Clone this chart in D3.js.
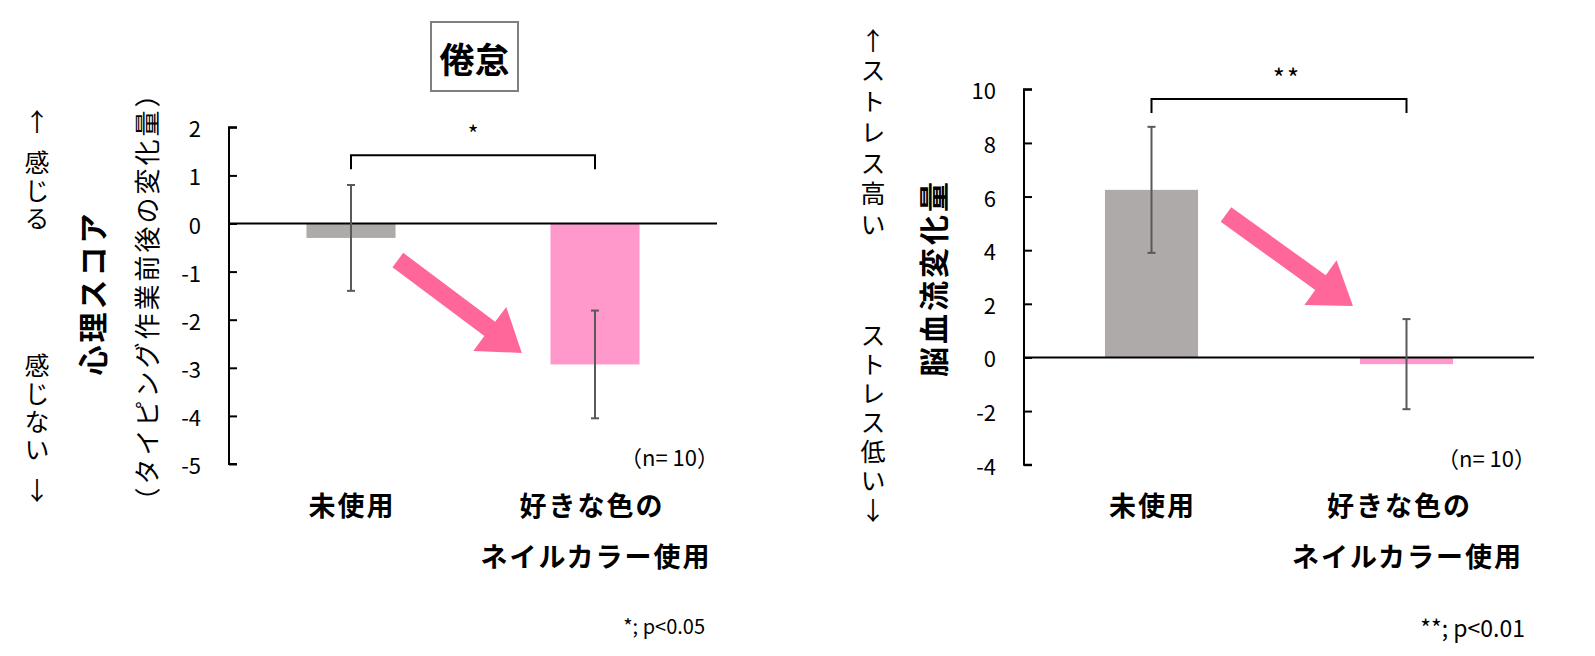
<!DOCTYPE html>
<html lang="ja">
<head>
<meta charset="UTF-8">
<title>倦怠 / 脳血流変化量</title>
<style>
    body { margin: 0; padding: 0; background: #fff; overflow: hidden; }
    svg { display: block; font-family: "Noto Sans CJK JP", "Noto Sans", sans-serif; }
</style>
</head>
<body>
<svg id="chart" width="1595" height="656"></svg>
<script src="https://d3js.org/d3.v7.min.js"></script>
<script>
// categories (two lines for the long label)
const categories = ["未使用", "好きな色のネイルカラー使用"];
const categoryLines = [["未使用"], ["好きな色の", "ネイルカラー使用"]];
const barColors = ["#AEAAAA", "#FF99CC"];

// left: 倦怠 psychological score change
const boredomMeans = [-0.3, -2.93];
const boredomErrors = [1.1, 1.12];
const boredomTicks = [2, 1, 0, -1, -2, -3, -4, -5];

// right: cerebral blood flow change
const bloodMeans = [6.25, -0.25];
const bloodErrors = [2.35, 1.68];
const bloodTicks = [10, 8, 6, 4, 2, 0, -2, -4];

const svg = d3.select("#chart");

// upright vertical text (tategaki); gap = extra space before the 2nd part
function verticalText(g, parts, x, yCenterFirst, size, spacing, gap) {
    const t = g.append("text")
        .attr("x", x)
        .attr("y", yCenterFirst - size / 2)
        .style("writing-mode", "vertical-rl")
        .style("text-orientation", "upright")
        .style("font-size", size + "px")
        .style("letter-spacing", spacing + "px");
    t.append("tspan").text(parts[0]);
    if (parts[1]) t.append("tspan").attr("dy", gap).text(parts[1]);
}

function drawPanel(p) {
    const g = svg.append("g");

    const x = d3.scaleBand().domain(categories).range([p.left, p.right]);
    const y = d3.scaleLinear().domain(p.domain).range([p.bottom, p.top]);
    const barW = x.bandwidth() * 0.365;
    const cx = c => x(c) + x.bandwidth() / 2;

    // bars
    g.selectAll(".bar")
        .data(categories)
      .enter().append("rect")
        .attr("x", d => cx(d) - barW / 2)
        .attr("y", (d, i) => y(Math.max(0, p.means[i])))
        .attr("width", barW)
        .attr("height", (d, i) => Math.abs(y(p.means[i]) - y(0)))
        .attr("fill", (d, i) => barColors[i]);

    // zero line
    g.append("line")
        .attr("x1", p.left).attr("x2", p.right)
        .attr("y1", y(0)).attr("y2", y(0))
        .attr("stroke", "#000").attr("stroke-width", 2);

    // y axis, ticks pointing inward
    const axis = g.append("g")
        .attr("transform", `translate(${p.left},0)`)
        .call(d3.axisRight(y).tickValues(p.ticks).tickSize(8).tickFormat(""));
    axis.select(".domain").attr("d", `M8,${y(p.domain[0])}H0V${y(p.domain[1])}H8`)
        .attr("stroke", "#000").attr("stroke-width", 2);
    axis.selectAll(".tick line").attr("stroke", "#000").attr("stroke-width", 2);

    g.selectAll(".tlabel")
        .data(p.ticks)
      .enter().append("text")
        .attr("x", p.left - 28)
        .attr("y", d => y(d))
        .attr("text-anchor", "end")
        .attr("dominant-baseline", "central")
        .style("font-size", "22px")
        .text(d => d);

    // error bars
    const eb = g.selectAll(".err")
        .data(categories)
      .enter().append("g")
        .attr("stroke", "#595959").attr("stroke-width", 2);
    eb.append("line")
        .attr("x1", d => cx(d)).attr("x2", d => cx(d))
        .attr("y1", (d, i) => y(p.means[i] + p.errors[i]))
        .attr("y2", (d, i) => y(p.means[i] - p.errors[i]));
    [1, -1].forEach(s => {
        eb.append("line")
            .attr("x1", d => cx(d) - 4).attr("x2", d => cx(d) + 4)
            .attr("y1", (d, i) => y(p.means[i] + s * p.errors[i]))
            .attr("y2", (d, i) => y(p.means[i] + s * p.errors[i]));
    });

    // significance bracket
    const by = y(p.bracketAt);
    g.append("path")
        .attr("d", `M${cx(categories[0])},${by + 14}V${by}H${cx(categories[1])}V${by + 14}`)
        .attr("fill", "none").attr("stroke", "#000").attr("stroke-width", 2);
    g.append("text")
        .attr("x", (cx(categories[0]) + cx(categories[1])) / 2 + p.starShift)
        .attr("y", by - 22)
        .attr("text-anchor", "middle")
        .attr("dominant-baseline", "central")
        .style("font-size", p.starSize + "px")
        .style("letter-spacing", "2px")
        .text(p.stars);

    // pink arrow
    const xf = f => p.left + f * (p.right - p.left);
    const sx = xf(p.arrow.from[0]), sy = y(p.arrow.from[1]);
    const tx = xf(p.arrow.to[0]), ty = y(p.arrow.to[1]);
    const len = Math.hypot(tx - sx, ty - sy);
    const ux = (tx - sx) / len, uy = (ty - sy) / len;
    const nx = -uy, ny = ux;
    const hw = 9, hh = 27.5, hl = 40;
    const bx = tx - ux * hl, byy = ty - uy * hl;
    const pts = [
        [sx + nx * hw, sy + ny * hw],
        [bx + nx * hw, byy + ny * hw],
        [bx + nx * hh, byy + ny * hh],
        [tx, ty],
        [bx - nx * hh, byy - ny * hh],
        [bx - nx * hw, byy - ny * hw],
        [sx - nx * hw, sy - ny * hw]
    ];
    g.append("polygon")
        .attr("points", pts.map(q => q.join(",")).join(" "))
        .attr("fill", "#FF6699");

    // category labels
    categoryLines.forEach((lines, i) => {
        lines.forEach((t, j) => {
            g.append("text")
                .attr("x", cx(categories[i]) + (i === 1 && j === 0 ? p.line1Shift : 0) + 1)
                .attr("y", p.labelY + j * p.lineGap)
                .attr("text-anchor", "middle")
                .attr("dominant-baseline", "central")
                .style("font-size", "27px")
                .style("font-weight", "bold")
                .style("letter-spacing", "2px")
                .text(t);
        });
    });

    // n and footnote (full-width closing paren leaves half an em blank)
    g.append("text")
        .attr("x", p.right + 2).attr("y", y(p.domain[0]) - 8)
        .attr("text-anchor", "end").attr("dominant-baseline", "central")
        .style("font-size", "22px")
        .text("（n= 10）");
    g.append("text")
        .attr("x", p.noteX).attr("y", p.noteY)
        .attr("text-anchor", "end").attr("dominant-baseline", "central")
        .style("font-size", p.noteSize + "px")
        .text(p.note);

    // axis titles
    p.titles.forEach(t => {
        g.append("text")
            .attr("transform", `translate(${t.x},${t.y}) rotate(-90)`)
            .attr("text-anchor", "middle")
            .attr("dominant-baseline", "central")
            .style("font-size", t.size + "px")
            .style("font-weight", t.bold ? "bold" : "normal")
            .style("letter-spacing", t.spacing + "px")
            .text(t.text);
    });

    // direction hints
    p.hints.forEach(h => verticalText(g, h.parts, h.x, h.y, 25, h.spacing, h.gap));
}

drawPanel({
    left: 229, right: 717, top: 127.3, bottom: 464,
    domain: [-5, 2], ticks: boredomTicks,
    means: boredomMeans, errors: boredomErrors,
    bracketAt: 1.42, stars: "*", starShift: 1, starSize: 23,
    arrow: { from: [0.346, -0.76], to: [0.6, -2.69] },
    labelY: 504, lineGap: 51, line1Shift: -4,
    note: "*; p<0.05", noteX: 705, noteY: 625, noteSize: 20,
    titles: [
        { text: "心理スコア", x: 91, y: 293, size: 30, bold: true, spacing: 3 },
        { text: "（タイピング作業前後の変化量）", x: 145, y: 296, size: 26, bold: false, spacing: 3 }
    ],
    hints: [
        { parts: ["↑", "感じる"], x: 37, y: 121, spacing: 3, gap: 13 },
        { parts: ["感じない", "↓"], x: 37, y: 365, spacing: 3, gap: 13 }
    ]
});

drawPanel({
    left: 1024, right: 1534, top: 89.3, bottom: 464.7,
    domain: [-4, 10], ticks: bloodTicks,
    means: bloodMeans, errors: bloodErrors,
    bracketAt: 9.64, stars: "**", starShift: 8, starSize: 26,
    arrow: { from: [0.396, 5.33], to: [0.645, 1.92] },
    labelY: 504, lineGap: 51, line1Shift: -8,
    note: "**; p<0.01", noteX: 1525, noteY: 627, noteSize: 23,
    titles: [
        { text: "脳血流変化量", x: 932, y: 278, size: 30, bold: true, spacing: 3 }
    ],
    hints: [
        { parts: ["↑ストレス高い"], x: 873, y: 40, spacing: 5.8, gap: 0 },
        { parts: ["ストレス低い↓"], x: 873, y: 335, spacing: 4.2, gap: 0 }
    ]
});

// title box
svg.append("rect")
    .attr("x", 431).attr("y", 22).attr("width", 87).attr("height", 69)
    .attr("fill", "#fff").attr("stroke", "#7F7F7F").attr("stroke-width", 2);
svg.append("text")
    .attr("x", 474.5).attr("y", 57)
    .attr("text-anchor", "middle").attr("dominant-baseline", "central")
    .style("font-size", "35px").style("font-weight", "bold")
    .text("倦怠");
</script>
</body>
</html>
